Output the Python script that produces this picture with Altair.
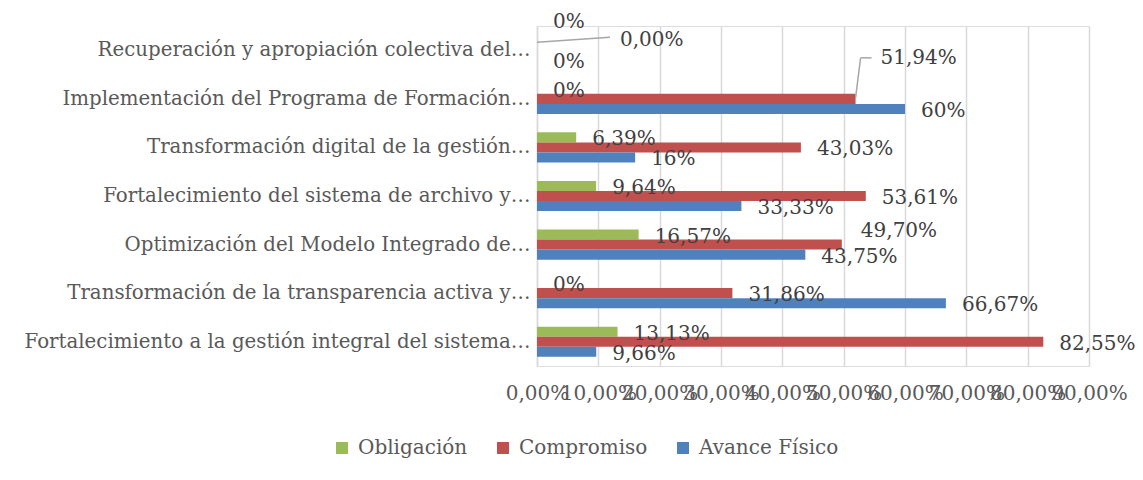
import altair as alt
import pandas as pd

categories = [
    "Recuperación y apropiación colectiva del…",
    "Implementación del Programa de Formación…",
    "Transformación digital de la gestión…",
    "Fortalecimiento del sistema de archivo y…",
    "Optimización del Modelo Integrado de…",
    "Transformación de la transparencia activa y…",
    "Fortalecimiento a la gestión integral del sistema…",
]
series = ["Obligación", "Compromiso", "Avance Físico"]
colors = ["#9BBB59", "#C0504D", "#4F81BD"]

obligacion = [0, 0, 6.39, 9.64, 16.57, 0, 13.13]
compromiso = [0, 51.94, 43.03, 53.61, 49.70, 31.86, 82.55]
avance = [0, 60, 16, 33.33, 43.75, 66.67, 9.66]

obligacion_lbl = ["0%", "0%", "6,39%", "9,64%", "16,57%", "0%", "13,13%"]
compromiso_lbl = ["0,00%", "51,94%", "43,03%", "53,61%", "49,70%", "31,86%", "82,55%"]
avance_lbl = ["0%", "60%", "16%", "33,33%", "43,75%", "66,67%", "9,66%"]

x_ticks = [0, 10, 20, 30, 40, 50, 60, 70, 80, 90]

rows = []
for i, c in enumerate(categories):
    for s, vals, labs in zip(series, [obligacion, compromiso, avance],
                             [obligacion_lbl, compromiso_lbl, avance_lbl]):
        rows.append({"cat": c, "serie": s, "valor": vals[i], "etiqueta": labs[i], "idx": i})
df = pd.DataFrame(rows)

FONT = "DejaVu Serif"
FS = 20
TXT = "#595959"

x_enc = alt.X(
    "valor:Q",
    scale=alt.Scale(domain=[0, 90], nice=False),
    axis=alt.Axis(
        values=x_ticks, title=None, domain=False, ticks=False,
        grid=True, gridColor="#D9D9D9", gridWidth=1.5,
        labelExpr="replace(format(datum.value, '.2f'), '.', ',') + '%'",
        labelOverlap=False, labelFlush=False, labelPadding=17,
        labelFont=FONT, labelFontSize=FS, labelColor=TXT,
    ),
)
y_enc = alt.Y(
    "cat:N", sort=categories,
    scale=alt.Scale(paddingInner=0.38, paddingOuter=0.19),
    axis=alt.Axis(
        title=None, ticks=False, domain=True, domainColor="#D9D9D9", domainWidth=1.5,
        labelFont=FONT, labelFontSize=19.8, labelColor=TXT, labelLimit=700,
        labelPadding=7,
    ),
)
y_plain = alt.Y("cat:N", sort=categories)
yoff = alt.YOffset("serie:N", sort=series,
                   scale=alt.Scale(domain=series, paddingInner=0, paddingOuter=0))

base = alt.Chart(df)

bars = base.mark_bar().encode(
    x=x_enc, y=y_enc, yOffset=yoff,
    color=alt.Color(
        "serie:N", sort=series,
        scale=alt.Scale(domain=series, range=colors),
        legend=alt.Legend(
            title=None, orient="none", direction="horizontal", columns=3,
            legendX=-205, legendY=412, symbolType="square", symbolSize=144,
            symbolStrokeWidth=0, labelFont=FONT, labelFontSize=FS, labelColor=TXT,
            labelOffset=6, columnPadding=25, padding=0,
        ),
    ),
)

is_special = ("(datum.idx == 0 && datum.serie != 'Avance Físico') || "
              "(datum.idx == 1 && datum.serie == 'Compromiso') || "
              "(datum.idx == 4 && datum.serie == 'Compromiso')")

def text_layer(filt, dx, dy):
    return base.transform_filter(filt).mark_text(
        align="left", baseline="middle", dx=dx, dy=dy,
        font=FONT, fontSize=FS, color="#404040",
    ).encode(x="valor:Q", y=y_plain, yOffset=yoff, text="etiqueta:N")

labels_main = text_layer("!(" + is_special + ")", 16, 2)
lab_r0_obl = text_layer("datum.idx == 0 && datum.serie == 'Obligación'", 16, -18)
lab_r0_comp = text_layer("datum.idx == 0 && datum.serie == 'Compromiso'", 83, -10)
lab_r1_comp = text_layer("datum.idx == 1 && datum.serie == 'Compromiso'", 25, -41)
lab_r4_comp = text_layer("datum.idx == 4 && datum.serie == 'Compromiso'", 19, -14)

LEAD = "#A6A6A6"
f0 = "datum.idx == 0 && datum.serie == 'Compromiso'"
f1 = "datum.idx == 1 && datum.serie == 'Compromiso'"

leader0 = base.transform_filter(f0).mark_rule(
    color=LEAD, strokeWidth=1.5, x2Offset=73, yOffset=-8, y2Offset=-13,
).encode(x="valor:Q", x2="valor:Q", y=y_plain, y2="cat:N")

leader1a = base.transform_filter(f1).mark_rule(
    color=LEAD, strokeWidth=1.5, x2Offset=5, yOffset=-1, y2Offset=-41,
).encode(x="valor:Q", x2="valor:Q", y=y_plain, y2="cat:N")

leader1b = base.transform_filter(f1).mark_rule(
    color=LEAD, strokeWidth=1.5, xOffset=5, x2Offset=16, yOffset=-41,
).encode(x="valor:Q", x2="valor:Q", y=y_plain)

chart = alt.layer(
    bars, leader0, leader1a, leader1b,
    labels_main, lab_r0_obl, lab_r0_comp, lab_r1_comp, lab_r4_comp,
).properties(
    width=552, height=340,
    padding={"left": 529, "top": 18, "right": 46, "bottom": 106},
    autosize=alt.AutoSizeParams(type="none"),
).configure_view(strokeWidth=0).configure(background="white")

chart.save("out.html", embed_options={"renderer": "svg", "actions": False})
